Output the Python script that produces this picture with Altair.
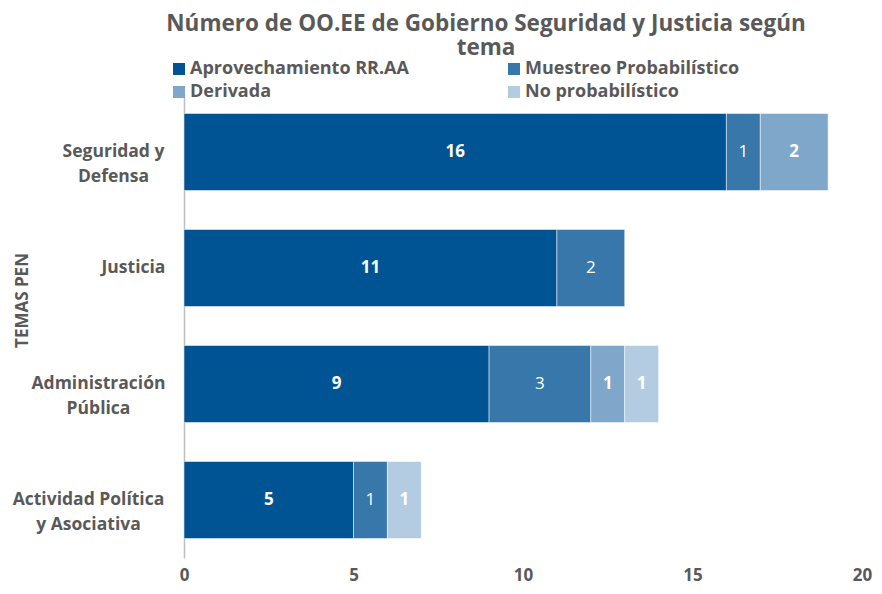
import altair as alt
import pandas as pd

categories = ["Seguridad y|Defensa", "Justicia", "Administración|Pública", "Actividad Política|y Asociativa"]
series = ["Aprovechamiento RR.AA", "Muestreo Probabilístico", "Derivada", "No probabilístico"]
aprovechamiento = [16, 11, 9, 5]
muestreo = [1, 2, 3, 1]
derivada = [2, 0, 1, 0]
no_probabilistico = [0, 0, 1, 1]
colors = ["#005494", "#3777A9", "#7FA7CA", "#B4CCE2"]
x_ticks = [0, 5, 10, 15, 20]
# half-width of each centred category label (keeps their right edges aligned)
label_pad = [71, 51, 86, 96]

rows = []
for s_i, (s, vals) in enumerate(zip(series, [aprovechamiento, muestreo, derivada, no_probabilistico])):
    for c, v in zip(categories, vals):
        if v > 0:
            rows.append({"tema": c, "serie": s, "valor": v, "orden": s_i})
df = pd.DataFrame(rows)

FONT = "Open Sans"
GRAY = "#595959"

pad_cond = {
    "condition": [
        {"test": f"datum.value == '{c}'", "value": p} for c, p in zip(categories, label_pad)
    ],
    "value": 51,
}

base = alt.Chart(df).transform_stack(
    stack="valor", groupby=["tema"], as_=["x0", "x1"], sort=[alt.SortField("orden")]
).transform_calculate(mid="(datum.x0 + datum.x1) / 2")

y_enc = alt.Y(
    "tema:N", sort=categories,
    scale=alt.Scale(paddingInner=0.336, paddingOuter=0.168),
    axis=alt.Axis(
        title="TEMAS PEN", titleFont=FONT, titleFontSize=17, titleFontWeight="bold",
        titleColor=GRAY, titleX=-162, titleY=206, titleAngle=-90, titleBaseline="middle",
        labelExpr="split(datum.label, '|')", labelFont=FONT, labelFontSize=17.5,
        labelFontWeight="bold", labelColor=GRAY, labelAlign="center", labelPadding=pad_cond,
        labelLineHeight=25,
        ticks=False, domain=True, domainColor="#BFBFBF", domainWidth=1.5, grid=False,
    ),
)

bars = base.mark_bar(stroke="white", strokeWidth=0.5).encode(
    x=alt.X(
        "x0:Q", scale=alt.Scale(domain=[0, 20]), title=None,
        axis=alt.Axis(values=x_ticks, labelFont=FONT, labelFontSize=17, labelFontWeight="bold",
                      labelColor=GRAY, labelPadding=9, labelFlush=False,
                      ticks=False, domain=False, grid=False),
    ),
    x2="x1:Q",
    y=y_enc,
    color=alt.Color(
        "serie:N", scale=alt.Scale(domain=series, range=colors), sort=series,
        legend=alt.Legend(
            orient="none", legendX=-14, legendY=-34, columns=2, direction="horizontal", title=None,
            symbolType="square", symbolSize=144, symbolStrokeWidth=0,
            labelFont=FONT, labelFontSize=18, labelFontWeight="bold", labelColor=GRAY,
            labelLimit=400, columnPadding=96, rowPadding=5, labelOffset=2,
        ),
    ),
)

text_bold = base.transform_filter(alt.datum.serie != "Muestreo Probabilístico").mark_text(
    color="white", font=FONT, fontSize=17, fontWeight="bold"
).encode(x="mid:Q", y=alt.Y("tema:N", sort=categories), text="valor:Q")

text_norm = base.transform_filter(alt.datum.serie == "Muestreo Probabilístico").mark_text(
    color="white", font=FONT, fontSize=17, fontWeight="normal"
).encode(x="mid:Q", y=alt.Y("tema:N", sort=categories), text="valor:Q")

chart = alt.layer(bars, text_bold, text_norm).properties(
    width=678, height=464,
    autosize="none",
    padding={"left": 176, "top": 86, "right": 12, "bottom": 28},
    title=alt.TitleParams(
        text=["Número de OO.EE de Gobierno Seguridad y Justicia según", "tema"],
        font=FONT, fontSize=22.5, fontWeight="bold", color=GRAY, anchor="middle",
        frame="group", dx=-37, dy=5, offset=6, lineHeight=24,
    ),
).configure_view(stroke=None)

chart.save("out.html", embed_options={"renderer": "svg", "actions": False})
